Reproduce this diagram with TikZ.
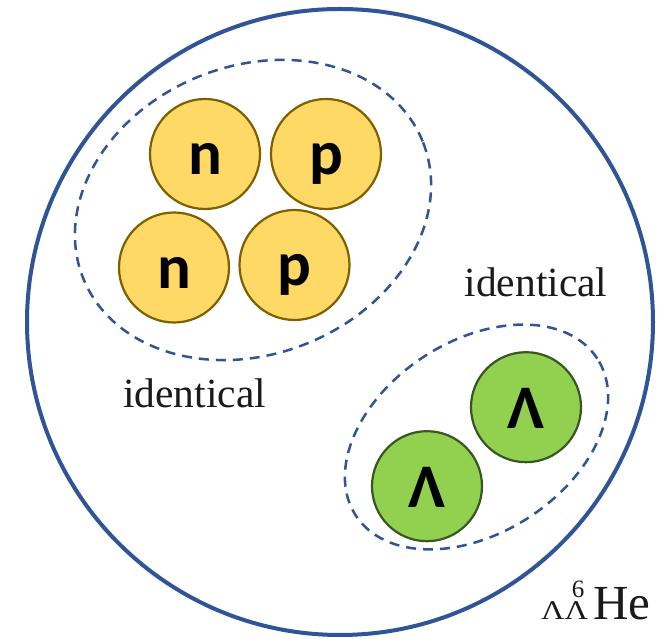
\documentclass[tikz,border=0pt]{standalone}
\usepackage{fontspec}
\usepackage{graphicx}
\setmainfont{Liberation Serif}
\newfontfamily\carlito{Carlito}
\definecolor{ringblue}{HTML}{2F5597}
\definecolor{nucfill}{HTML}{FFD966}
\definecolor{nucdraw}{HTML}{7F6000}
\definecolor{hypfill}{HTML}{92D050}
\definecolor{hypdraw}{HTML}{385723}
\definecolor{txt}{HTML}{1A1A1A}
\begin{document}
\begin{tikzpicture}[x=1pt,y=1pt,
  nucleon/.style={circle, draw=nucdraw, line width=2.2pt, fill=nucfill,
    minimum size=110pt, inner sep=0pt,
    font=\carlito\bfseries\fontsize{63}{63}\selectfont,
    text height=42pt, text depth=0pt},
  hyperon/.style={nucleon, draw=hypdraw, fill=hypfill,
    font=\carlito\bfseries\fontsize{62}{62}\selectfont},
  cluster/.style={draw=ringblue, line width=2.5pt, dash pattern=on 10pt off 7pt},
  word/.style={font=\fontsize{41.5}{42}\selectfont, text=txt, inner sep=0pt, anchor=base},
  sym/.style={text=txt, inner sep=0pt, anchor=base west}]
\useasboundingbox (0,0) rectangle (670,639);
\fill[white] (0,0) rectangle (670,639);
\node[circle, draw=ringblue, line width=4pt, minimum size=626pt, inner sep=0pt] (nucleus) at (340,317) {};
% core cluster
\coordinate (corec) at (253,429);
\draw[cluster, rotate around={22:(corec)}] (corec) ellipse [x radius=183pt, y radius=144pt];
\node[nucleon] (n1) at (205,485) {n};
\node[nucleon] (p1) at (326,485) {p};
\node[nucleon] (n2) at (174,371.5) {n};
\node[nucleon] (p2) at (294.5,374) {p};
% hyperon cluster
\coordinate (hypc) at (476.5,202);
\draw[cluster, rotate around={33:(hypc)}] (hypc) ellipse [x radius=144pt, y radius=96pt];
\node[hyperon] (l1) at (526,231.8) {Λ};
\node[hyperon] (l2) at (427,152.8) {Λ};
% labels
\node[word] (same1) at (194.5,231) {identical};
\node[word] (same2) at (536,342) {identical};
\node[sym, font=\fontsize{27}{27}\selectfont, text height=17pt, text depth=0pt] (lsub) at (541,19) {\scalebox{1.2}[1]{ΛΛ}};
\node[sym, font=\fontsize{25}{25}\selectfont, text height=17pt, text depth=0pt] (lsup) at (571.7,41.5) {6};
\node[sym, font=\fontsize{49}{49}\selectfont] (lhe) at (593,19) {He};
\end{tikzpicture}
\end{document}
